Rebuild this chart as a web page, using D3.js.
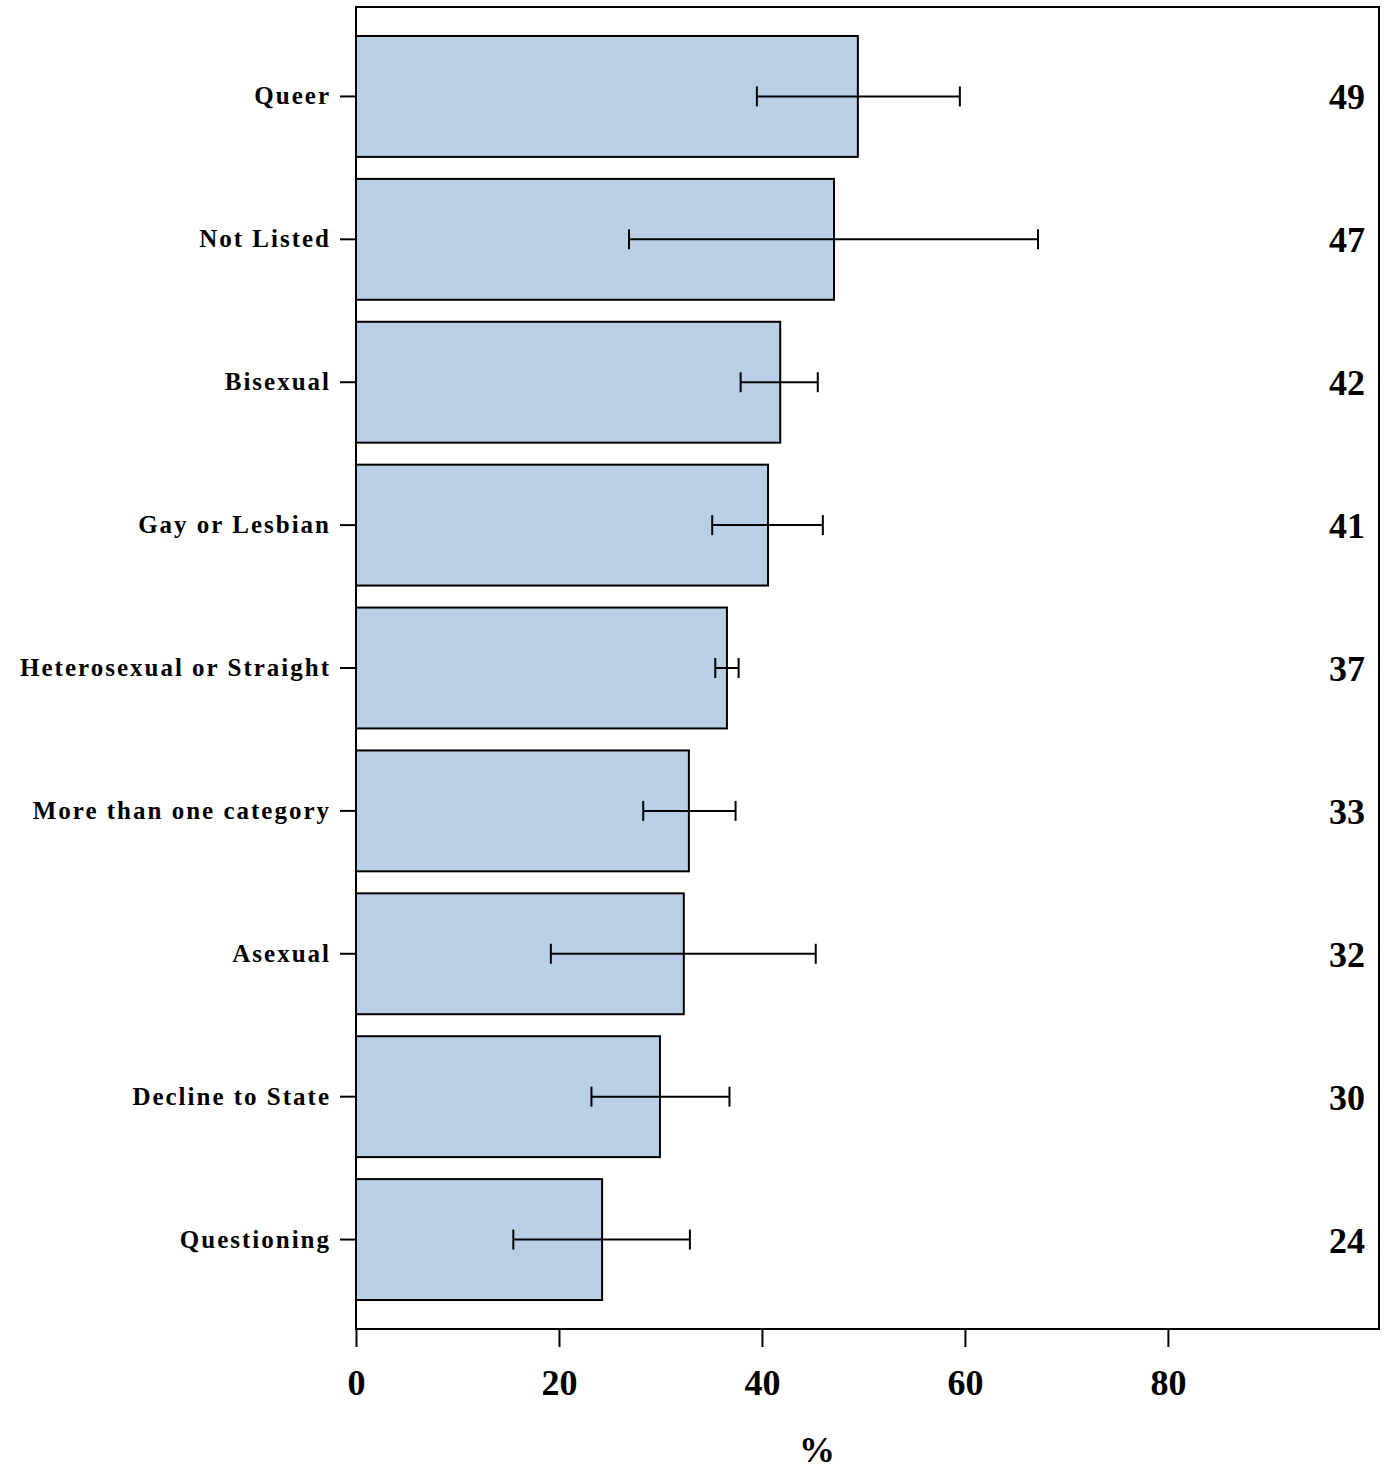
<!DOCTYPE html>
<html><head><meta charset="utf-8">
<script src="https://cdn.jsdelivr.net/npm/d3@7"></script>
<style>body{margin:0;background:#fff}
svg text{font-family:"Liberation Serif","Times New Roman",Times,serif;font-weight:bold}
svg text.num{font-family:"Liberation Serif","DejaVu Serif Condensed","Times New Roman",serif}
</style>
</head><body>
<script>
const categories = ["Queer","Not Listed","Bisexual","Gay or Lesbian","Heterosexual or Straight","More than one category","Asexual","Decline to State","Questioning"];
const values = [49.45, 47.1, 41.8, 40.6, 36.55, 32.8, 32.3, 29.95, 24.25];
const lower = [39.5, 26.9, 37.9, 35.1, 35.4, 28.3, 19.2, 23.2, 15.5];
const upper = [59.5, 67.2, 45.5, 46.0, 37.7, 37.4, 45.3, 36.8, 32.9];
const labels = ["49","47","42","41","37","33","32","30","24"];
const xTicks = [0,20,40,60,80];

(function(){
const W=1389,H=1473;
const mL=356,mR=1379,mT=7,mB=1329;
const svg=d3.select("body").append("svg").attr("width",W).attr("height",H);
const x=d3.scaleLinear().domain([0,100.8]).range([mL,mR]);
const y=d3.scaleBand().domain(categories).range([36,1300]).paddingInner(0.154).paddingOuter(0);

svg.append("g").selectAll("rect").data(categories).join("rect")
  .attr("x",x(0)).attr("y",d=>y(d)).attr("width",(d,i)=>x(values[i])-x(0)).attr("height",y.bandwidth())
  .attr("fill","#b9cfe6").attr("stroke","#000").attr("stroke-width",2);

const eb=svg.append("g").attr("stroke","#000").attr("stroke-width",2);
categories.forEach((c,i)=>{
  const cy=y(c)+y.bandwidth()/2;
  eb.append("line").attr("x1",x(lower[i])).attr("x2",x(upper[i])).attr("y1",cy).attr("y2",cy);
  eb.append("line").attr("x1",x(lower[i])).attr("x2",x(lower[i])).attr("y1",cy-10).attr("y2",cy+10);
  eb.append("line").attr("x1",x(upper[i])).attr("x2",x(upper[i])).attr("y1",cy-10).attr("y2",cy+10);
});

svg.append("rect").attr("x",mL).attr("y",mT).attr("width",mR-mL).attr("height",mB-mT)
  .attr("fill","none").attr("stroke","#000").attr("stroke-width",2);

const xa=svg.append("g").attr("transform",`translate(0,${mB})`)
  .call(d3.axisBottom(x).tickValues(xTicks).tickSize(18).tickPadding(22).tickFormat(d3.format("d")));
xa.select(".domain").remove();
xa.attr("font-family",null).attr("font-size",null);
xa.selectAll("line").attr("stroke-width",2);
xa.selectAll("text").attr("class","num").style("font-size","36px").attr("fill","#000");

const ya=svg.append("g").attr("transform",`translate(${mL},0)`)
  .call(d3.axisLeft(y).tickSize(16).tickPadding(9));
ya.select(".domain").remove();
ya.attr("font-family",null).attr("font-size",null);
ya.selectAll("line").attr("stroke-width",2);
ya.selectAll("text").style("font-size","25px").style("letter-spacing","2px").attr("fill","#000");

svg.append("g").selectAll("text").data(categories).join("text")
  .attr("class","num")
  .attr("x",1365).attr("y",d=>y(d)+y.bandwidth()/2).attr("dy","0.36em").attr("text-anchor","end")
  .style("font-size","36px").text((d,i)=>labels[i]);

svg.append("text").attr("x",817).attr("y",1462).attr("text-anchor","middle")
  .style("font-size","36px").text("%");
})();
</script>
</body></html>
